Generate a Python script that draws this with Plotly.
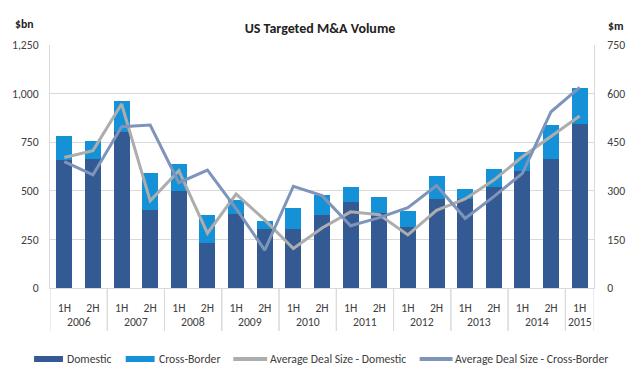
import plotly.graph_objects as go

years = ["2006", "2006", "2007", "2007", "2008", "2008", "2009", "2009", "2010", "2010",
         "2011", "2011", "2012", "2012", "2013", "2013", "2014", "2014", "2015"]
halves = ["1H", "2H", "1H", "2H", "1H", "2H", "1H", "2H", "1H", "2H",
          "1H", "2H", "1H", "2H", "1H", "2H", "1H", "2H", "1H"]

domestic = [660, 662, 800, 400, 497, 234, 383, 303, 303, 377,
            440, 386, 316, 457, 456, 521, 600, 664, 845]
total = [780, 758, 962, 593, 640, 373, 452, 344, 413, 479,
         521, 470, 397, 574, 510, 611, 700, 836, 1030]
cross_border = [t - d for t, d in zip(total, domestic)]

avg_domestic = [403, 424, 568, 269, 362, 169, 290, 210, 122, 185,
                235, 226, 164, 240, 275, 333, 405, 467, 531]
avg_cross = [390, 349, 498, 503, 325, 364, 245, 117, 314, 285,
             192, 217, 248, 316, 215, 282, 354, 544, 619]

series_names = ["Domestic", "Cross-Border", "Average Deal Size - Domestic",
                "Average Deal Size - Cross-Border"]
colors = ["#335A92", "#1592D7", "#ADADAD", "#7F94BA"]

idx = list(range(len(halves)))

W, H = 640, 383
L, R, T, B = 48, 46, 45, 95
PW, PH = W - L - R, H - T - B


def px(xp):
    return (xp - L) / PW


def py(yp):
    return (H - B - yp) / PH


FONT = "Calibri, Carlito, Lato, Open Sans, sans-serif"
fnt = dict(family=FONT, size=11.7, color="#404040")

fig = go.Figure()
fig.add_trace(go.Bar(x=idx, y=domestic, name=series_names[0], marker_color=colors[0],
                     marker_line_width=0))
fig.add_trace(go.Bar(x=idx, y=cross_border, name=series_names[1], marker_color=colors[1],
                     marker_line_width=0))
fig.add_trace(go.Scatter(x=idx, y=avg_domestic, name=series_names[2],
                         mode="lines", line=dict(color=colors[2], width=3), yaxis="y2"))
fig.add_trace(go.Scatter(x=idx, y=avg_cross, name=series_names[3],
                         mode="lines", line=dict(color=colors[3], width=3), yaxis="y2"))

shapes = []
annotations = []

# year group labels and dividers
groups = []
for i, yv in enumerate(years):
    if not groups or groups[-1][0] != yv:
        groups.append([yv, i, i])
    else:
        groups[-1][2] = i
div_y = py(331)
for yv, a, b in groups:
    annotations.append(dict(text=yv, xref="x", yref="paper", x=(a + b) / 2, y=py(322),
                            xanchor="center", yanchor="middle", showarrow=False, font=fnt))
    for xb in (a - 0.5, b + 0.5):
        shapes.append(dict(type="line", xref="x", yref="paper", x0=xb, x1=xb, y0=0, y1=div_y,
                           line=dict(color="#D9D9D9", width=1), layer="below"))

# manual legend
leg_y = py(359)
sym = [(32, 61, "rect"), (124, 153, "rect"), (232, 266, "line"), (419, 452, "line")]
txt_x = [63, 155, 267, 452]
for (x0, x1, kind), c, name, tx in zip(sym, colors, series_names, txt_x):
    if kind == "rect":
        shapes.append(dict(type="rect", xref="paper", yref="paper", x0=px(x0), x1=px(x1),
                           y0=py(356), y1=py(362), fillcolor=c, line=dict(width=0)))
    else:
        shapes.append(dict(type="line", xref="paper", yref="paper", x0=px(x0), x1=px(x1),
                           y0=leg_y, y1=leg_y, line=dict(color=c, width=4)))
    annotations.append(dict(text=name, xref="paper", yref="paper", x=px(tx), y=leg_y,
                            xanchor="left", yanchor="middle", showarrow=False, font=fnt))

annotations.append(dict(text="<b>$bn</b>", xref="paper", yref="paper", x=px(22), y=py(24),
                        xanchor="center", yanchor="middle", showarrow=False,
                        font=dict(family=FONT, size=11.7, color="#222222")))
annotations.append(dict(text="<b>$m</b>", xref="paper", yref="paper", x=px(606), y=py(26),
                        xanchor="left", yanchor="middle", showarrow=False,
                        font=dict(family=FONT, size=11.7, color="#222222")))

fig.update_layout(
    width=W, height=H,
    barmode="stack", bargap=0.44,
    paper_bgcolor="white", plot_bgcolor="white",
    margin=dict(l=L, r=R, t=T, b=B),
    font=fnt,
    showlegend=False,
    title=dict(text="<b>US Targeted M&A Volume</b>", x=0.5, xanchor="center",
               y=1 - 28 / H, yanchor="middle",
               font=dict(family=FONT, size=14, color="#222222")),
    xaxis=dict(range=[-0.5, len(idx) - 0.5], tickvals=idx, ticktext=halves,
               showgrid=False, zeroline=False, showline=True, linecolor="#D9D9D9",
               tickfont=fnt, ticks="outside", tickcolor="white", ticklen=9),
    yaxis=dict(range=[0, 1250], dtick=250, tickformat=",", showgrid=True, gridcolor="#D9D9D9",
               zeroline=False, showline=True, linecolor="#D9D9D9", mirror=True,
               tickfont=fnt, ticks="outside", tickcolor="white", ticklen=8),
    yaxis2=dict(range=[0, 750], dtick=150, overlaying="y", side="right", showgrid=False,
                zeroline=False, tickfont=fnt, ticks="outside", tickcolor="white", ticklen=10),
    shapes=shapes,
    annotations=annotations,
)

fig.write_html("out.html", config={"displayModeBar": False},
               post_script="document.body.style.margin='0';document.body.style.padding='0';")
